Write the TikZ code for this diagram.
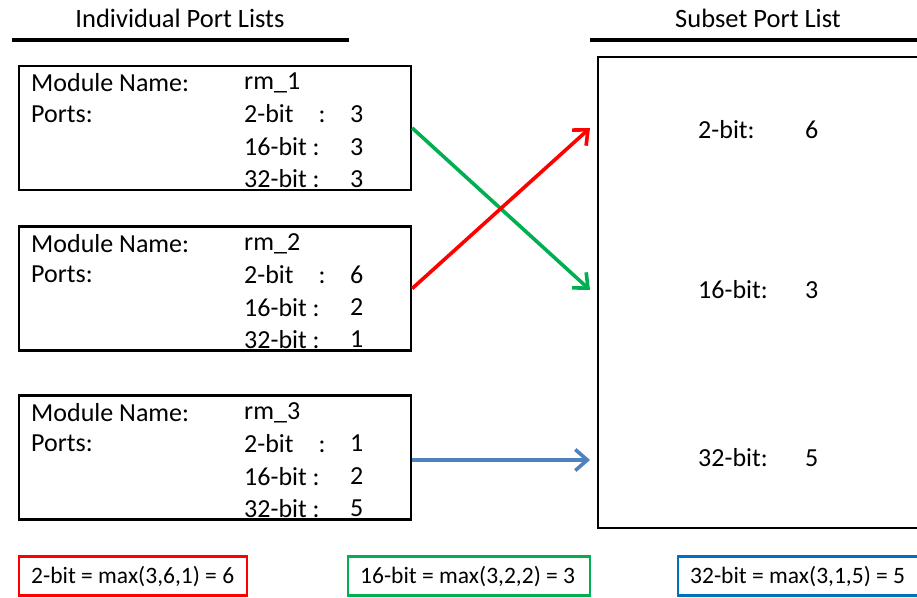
\documentclass[tikz,border=0pt]{standalone}
\usepackage{fontspec}
\setmainfont{Carlito}
\usetikzlibrary{arrows.meta}
\definecolor{arrowred}{HTML}{FF0000}
\definecolor{arrowgreen}{HTML}{00B050}
\definecolor{arrowblue}{HTML}{4F81BD}
\definecolor{boxblue}{HTML}{0070C0}
\tikzset{
  txt/.style={inner sep=0pt, anchor=west, font=\fontsize{26}{30}\selectfont},
  ftxt/.style={inner sep=0pt, anchor=west, font=\fontsize{23.5}{28}\selectfont},
  title/.style={inner sep=0pt, font=\fontsize{26.5}{30}\selectfont},
  modbox/.style={draw=black, line width=2.4pt, minimum width=392pt, minimum height=124pt, inner sep=0pt},
  sumbox/.style={draw, line width=2.4pt, minimum height=39pt, inner sep=0pt},
  conn/.style={line width=3.6pt, -{Straight Barb[length=12pt,width=21pt,line width=3.6pt]}},
  rule/.style={line width=3.4pt}
}
\begin{document}
\begin{tikzpicture}[x=1pt,y=-1pt]
\useasboundingbox (0,0) rectangle (917,597);

% headings and rules
\node[title] (tl) at (180,18) {Individual Port Lists};
\node[title] (tr) at (758,18) {Subset Port List};
\coordinate (ruleLa) at (12,40);  \coordinate (ruleLb) at (349,40);
\coordinate (ruleRa) at (590,40); \coordinate (ruleRb) at (930,40);
\draw[rule] (ruleLa) -- (ruleLb);
\draw[rule] (ruleRa) -- (ruleRb);

% module boxes
\foreach \i/\yc/\name/\va/\vb/\vc in {1/128/rm\_1/3/3/3, 2/288.5/rm\_2/6/2/1, 3/457.5/rm\_3/1/2/5}{
  \node[modbox] (m\i) at (215,\yc) {};
  \node[txt] (m\i n) at (31,\yc-45) {Module Name:};
  \node[txt] (m\i p) at (31,\yc-14) {Ports:};
  \node[txt] (m\i r) at (244,\yc-45) {\name};
  \node[txt] (m\i a) at (244,\yc-14) {2-bit\hphantom{1}\ \ :};
  \node[txt] (m\i b) at (244,\yc+19) {16-bit :};
  \node[txt] (m\i c) at (244,\yc+51) {32-bit :};
  \node[txt] (m\i x) at (350,\yc-14) {\va};
  \node[txt] (m\i y) at (350,\yc+19) {\vb};
  \node[txt] (m\i z) at (350,\yc+51) {\vc};
}

% subset box
\node[draw, line width=2.4pt, minimum width=340pt, minimum height=471pt, inner sep=0pt] (sub) at (768,292.5) {};
\node[txt] (s2) at (698,130) {2-bit:};
\node[txt] (s2v) at (805,130) {6};
\node[txt] (s16) at (698,290) {16-bit:};
\node[txt] (s16v) at (805,290) {3};
\node[txt] (s32) at (698,458) {32-bit:};
\node[txt] (s32v) at (805,458) {5};

% connectors
\coordinate (t2) at (590,128);
\coordinate (t16) at (590,290);
\coordinate (t32) at (590,460);
\draw[conn, arrowgreen] (m1.east) -- (t16);
\draw[conn, arrowred] (m2.east) -- (t2);
\draw[conn, arrowblue] (m3.east |- t32) -- (t32);

% summary boxes
\node[sumbox, draw=arrowred, minimum width=228pt] (f2) at (133,576) {};
\node[ftxt] (f2t) at (31,577) {2-bit = max(3,6,1) = 6};
\node[sumbox, draw=arrowgreen, minimum width=242pt] (f16) at (469,576) {};
\node[ftxt] (f16t) at (360,577) {16-bit = max(3,2,2) = 3};
\node[sumbox, draw=boxblue, minimum width=250pt] (f32) at (803,576) {};
\node[ftxt] (f32t) at (690,577) {32-bit = max(3,1,5) = 5};
\end{tikzpicture}
\end{document}
